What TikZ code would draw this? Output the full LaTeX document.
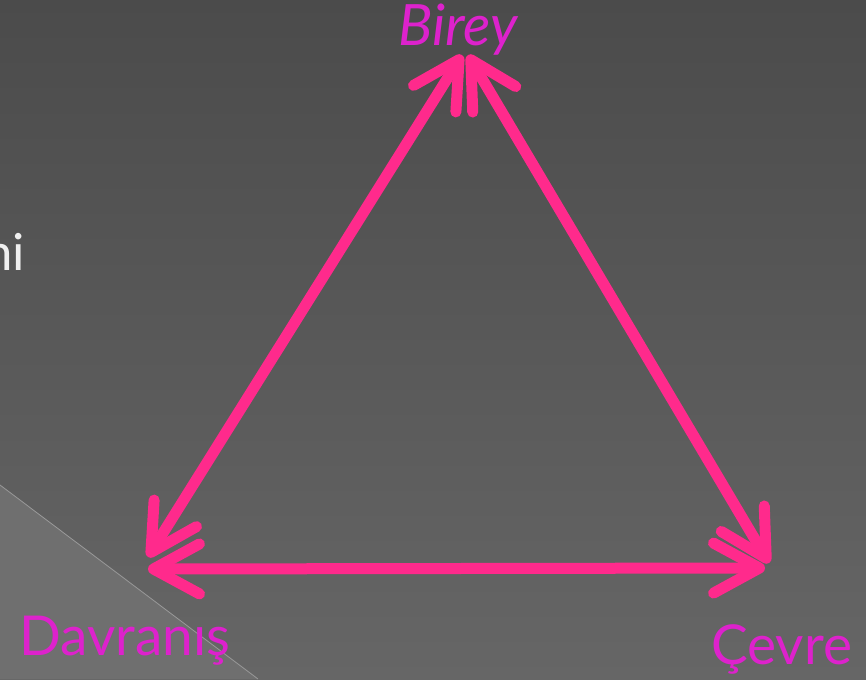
\documentclass[tikz,border=0pt]{standalone}
\usepackage{fontspec}
\setmainfont{Lato}
\newfontfamily\slidefont{Carlito}
\usetikzlibrary{arrows.meta, positioning}
\definecolor{bgtop}{HTML}{4B4B4B}
\definecolor{bgbottom}{HTML}{666666}
\definecolor{corner}{HTML}{6F6F6F}
\definecolor{arrowpink}{HTML}{FF2A8C}
\definecolor{labelpink}{HTML}{DD22CC}

\begin{document}
\begin{tikzpicture}[
  x=1pt, y=-1pt,
  label/.style={text=labelpink, font=\fontsize{55}{60}\selectfont, inner sep=0pt, anchor=base west},
  arrow/.style={{Straight Barb[length=46pt, width=50pt, round]}-{Straight Barb[length=46pt, width=50pt, round]},
                line width=11pt, arrowpink, line cap=round},
]
% Background
\useasboundingbox (0,0) rectangle (866,679);
\clip (0,0) rectangle (866,679);
\shade[top color=bgtop, bottom color=bgbottom] (0,0) rectangle (866,679);
\fill[corner] (0,485) -- (258,679) -- (0,679) -- cycle;
\draw[gray!80, line width=0.8pt] (0,485) -- (258,679);

% Cut-off slide text
\node[anchor=base east, inner sep=0pt, text=white!94!black,
      font=\slidefont\fontsize{54}{60}\selectfont] (slidetext) at (25,270) {ni};

% Labels
\node[label, font=\itshape\fontsize{57}{62}\selectfont] (birey) at (398,46) {Birey};
\node[label] (davranis) at (19,655) {Davranış};
\node[label] (cevre) at (711,664) {Çevre};

% Arrow ends
\coordinate (topL) at (462,55);
\coordinate (topR) at (468,55);
\coordinate (botL) at (148,557);
\coordinate (botR) at (769,563);
\coordinate (midL) at (148,569);
\coordinate (midR) at (765,568);

% Arrows
\draw[arrow] (topL) -- (botL);
\draw[arrow] (topR) -- (botR);
\draw[arrow] (midL) -- (midR);
\end{tikzpicture}
\end{document}
